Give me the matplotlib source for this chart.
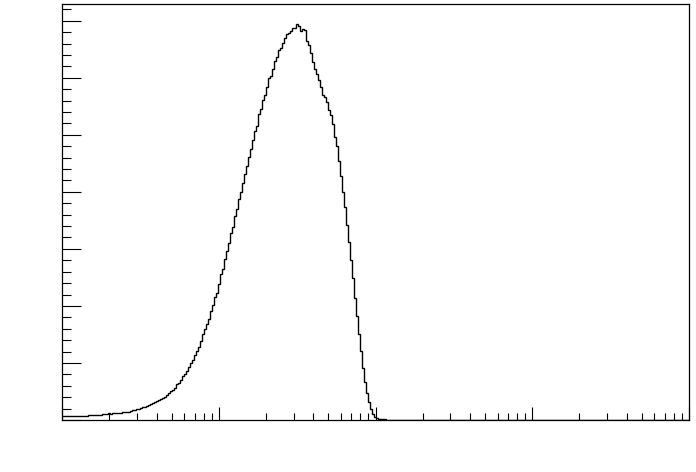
import numpy as np
import matplotlib
matplotlib.use("Agg")
import matplotlib.pyplot as plt
from matplotlib.ticker import LogLocator, MultipleLocator, NullFormatter

# Histogramm: 314 log-Bins von 1 bis 1e4
n_bins = 314
x_min, x_max = 1.0, 1.0e4

# Bininhalte, Bins 0..161, danach leer
counts = [
    65, 65, 65, 65, 65, 65, 65, 65, 65, 65, 65, 65, 65,
    82, 82, 82, 82, 82, 82, 82,
    100, 100, 100, 118, 105,
    123, 123, 123, 123, 123,
    135, 135, 135, 135,
    153, 170, 170, 188, 196, 205, 223, 223, 240, 258,
    275, 293, 310, 328, 345, 363, 381, 409, 444, 474,
    509, 526, 561, 632, 654, 702, 772, 807, 854, 925,
    995, 1053, 1135, 1216, 1286, 1381, 1509, 1591, 1684, 1777,
    1907, 2023, 2163, 2233, 2386, 2561, 2654, 2830, 2960, 3100,
    3275, 3381, 3579, 3707, 3872, 4000, 4163, 4316, 4456, 4619,
    4749, 4912, 5065, 5158, 5368, 5451, 5614, 5696, 5837, 5988,
    6035, 6153, 6293, 6363, 6479, 6514, 6609, 6702, 6772, 6784,
    6819, 6865, 6865, 6942, 6912, 6819, 6854, 6842, 6644, 6574,
    6433, 6281, 6163, 6070, 5965, 5837, 5696, 5661, 5579, 5439,
    5342, 5193, 4965, 4812, 4540, 4275, 4005, 3737, 3416, 3117,
    2807, 2491, 2140, 1825, 1514, 1202, 907, 667, 474, 311,
    188, 102, 58, 30, 18, 18, 18, 18,
] + [0] * 152

edges = np.logspace(np.log10(x_min), np.log10(x_max), n_bins + 1)

fig = plt.figure(figsize=(6.96, 4.72), dpi=100)
ax = fig.add_axes([0.0895, 0.1102, 0.9004, 0.8807])

ax.stairs(counts, edges, baseline=None, color="black", linewidth=1.0)

ax.set_xscale("log")
ax.set_xlim(x_min, x_max)
ax.set_ylim(0, 1.05 * max(counts))

ax.xaxis.set_major_locator(LogLocator(base=10))
ax.xaxis.set_minor_locator(LogLocator(base=10, subs=np.arange(2, 10)))
ax.yaxis.set_major_locator(MultipleLocator(1000))
ax.yaxis.set_minor_locator(MultipleLocator(200))
for axis in (ax.xaxis, ax.yaxis):
    axis.set_major_formatter(NullFormatter())
    axis.set_minor_formatter(NullFormatter())

ax.tick_params(axis="both", which="both", direction="in", width=0.8,
               top=False, right=False, color="black")
ax.tick_params(axis="x", which="major", length=9.1)
ax.tick_params(axis="x", which="minor", length=4.8)
ax.tick_params(axis="y", which="major", length=13.7)
ax.tick_params(axis="y", which="minor", length=6.8)

for s in ax.spines.values():
    s.set_linewidth(0.9)

fig.savefig("out.png", dpi=100)
